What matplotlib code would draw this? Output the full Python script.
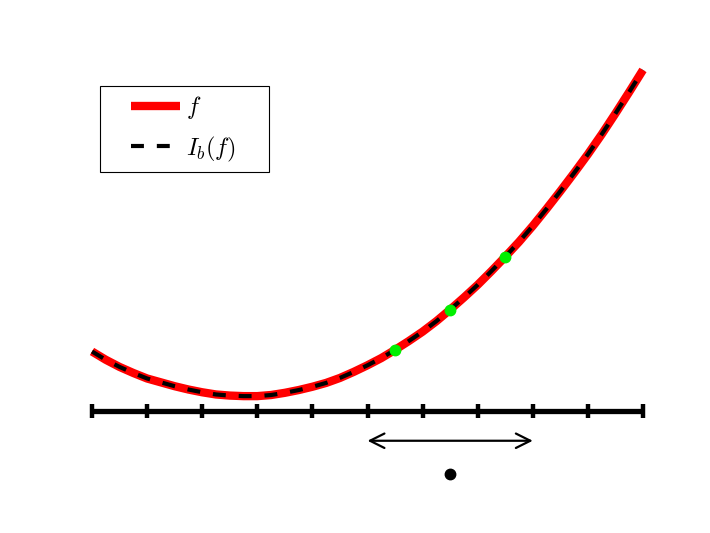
import numpy as np
import matplotlib
matplotlib.use("Agg")
import matplotlib.pyplot as plt
from matplotlib.lines import Line2D
from matplotlib.legend_handler import HandlerLine2D

plt.rcParams['mathtext.fontset'] = 'cm'

# curve samples
x = [0, 0.25, 0.5, 0.75, 1, 1.25, 1.5, 1.75, 2, 2.25, 2.5, 2.75, 3, 3.25, 3.5, 3.75,
     4, 4.25, 4.5, 4.75, 5, 5.25, 5.5, 5.75, 6, 6.25, 6.5, 6.75, 7, 7.25, 7.5, 7.75,
     8, 8.25, 8.5, 8.75, 9, 9.25, 9.5, 9.75, 10]
y = [1.08, 0.93, 0.80, 0.69, 0.59, 0.52, 0.45, 0.39, 0.34, 0.30, 0.28, 0.27, 0.27,
     0.29, 0.33, 0.38, 0.44, 0.51, 0.60, 0.71, 0.83, 0.96, 1.11, 1.27, 1.44, 1.63,
     1.84, 2.06, 2.29, 2.54, 2.80, 3.07, 3.36, 3.67, 3.99, 4.32, 4.66, 5.02, 5.40,
     5.79, 6.19]

nodes_x = [5.5, 6.5, 7.5]
nodes_y = [1.11, 1.84, 2.80]

grid_x = list(range(11))
arrow_span = [5, 8]
arrow_y = -0.54
dot_x, dot_y = 6.5, -1.14

fig = plt.figure(figsize=(7.1, 5.33), dpi=100)
ax = fig.add_axes([0, 0, 1, 1])
ax.set_axis_off()

# number line with ticks
ax.plot([grid_x[0], grid_x[-1]], [0, 0], color='black', lw=3.8, solid_capstyle='butt', zorder=1)
ax.plot(grid_x, np.zeros(len(grid_x)), ls='none', marker='|', ms=10.5, mew=3.2, color='black', zorder=1)

ax.plot(x, y, color='red', lw=6, solid_capstyle='butt', label='$f$', zorder=2)
ax.plot(x, y, color='black', lw=3, dashes=(3.1, 3.1), label='$I_b(f)$', zorder=3)
ax.plot(nodes_x, nodes_y, ls='none', marker='o', ms=7.5, color='#00f000', zorder=4)

ax.annotate('', xy=(arrow_span[0], arrow_y), xytext=(arrow_span[1], arrow_y),
            arrowprops=dict(arrowstyle='<->', color='black', lw=1.6, mutation_scale=26,
                            shrinkA=0, shrinkB=0))
ax.plot([dot_x], [dot_y], 'o', color='black', ms=7.5)

px = 55.1
ax.set_xlim(-92 / px, 10 + (710 - 643) / px)
ax.set_ylim(-122 / px, 411 / px)

leg = ax.legend(loc='upper left', bbox_to_anchor=(100 / 710, 1 - 171 / 533, 169 / 710, 85 / 533),
                mode='expand', borderaxespad=0, fontsize=17.5, fancybox=False,
                edgecolor='black', framealpha=1, handlelength=2.95, handletextpad=0.25,
                borderpad=0.33, labelspacing=0.55,
                handler_map={Line2D: HandlerLine2D(xpad=0.95)})
leg.get_frame().set_linewidth(0.8)

fig.savefig('out.png', dpi=100)
